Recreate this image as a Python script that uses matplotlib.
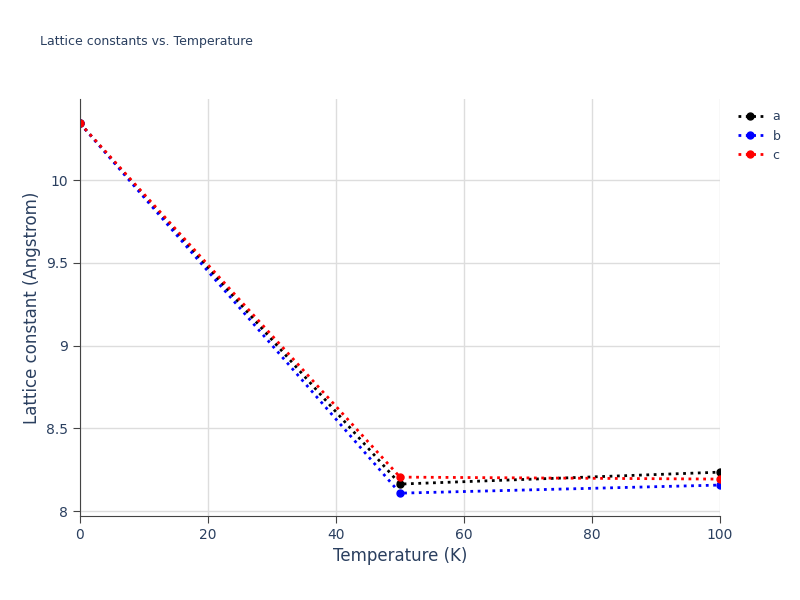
import matplotlib
matplotlib.use("Agg")
import matplotlib.pyplot as plt

temps = [0, 50, 100]
a_vals = [10.343, 8.163, 8.235]
b_vals = [10.343, 8.108, 8.157]
c_vals = [10.343, 8.205, 8.193]
series = [("a", a_vals, "black"), ("b", b_vals, "blue"), ("c", c_vals, "red")]

fig = plt.figure(figsize=(8, 6), dpi=100)
ax = fig.add_axes([0.1, 0.14, 0.8, 0.695])
for name, vals, col in series:
    ax.plot(temps, vals, linestyle=":", linewidth=2, color=col, marker="o", markersize=5, label=name)
ax.set_xlim(0, 100)
ax.set_ylim(7.97, 10.49)
ax.set_xticks([0, 20, 40, 60, 80, 100])
ax.set_yticks([8, 8.5, 9, 9.5, 10])
ax.set_yticklabels(["8", "8.5", "9", "9.5", "10"])
ax.grid(True, color="#dddddd", linewidth=1)
ax.set_axisbelow(True)
for s in ["top", "right"]:
    ax.spines[s].set_visible(False)
for s in ["left", "bottom"]:
    ax.spines[s].set_color("#444444")
tc = "#2a3f5f"
ax.tick_params(colors=tc, labelsize=10, length=5, color="#444444")
ax.set_xlabel("Temperature (K)", color=tc, fontsize=12)
ax.set_ylabel("Lattice constant (Angstrom)", color=tc, fontsize=12)
fig.text(0.05, 0.925, "Lattice constants vs. Temperature", color=tc, fontsize=9)
ax.legend(loc="upper left", bbox_to_anchor=(1.01, 1.0), frameon=False, fontsize=9, labelcolor=tc, handlelength=2)
fig.savefig("out.png")
